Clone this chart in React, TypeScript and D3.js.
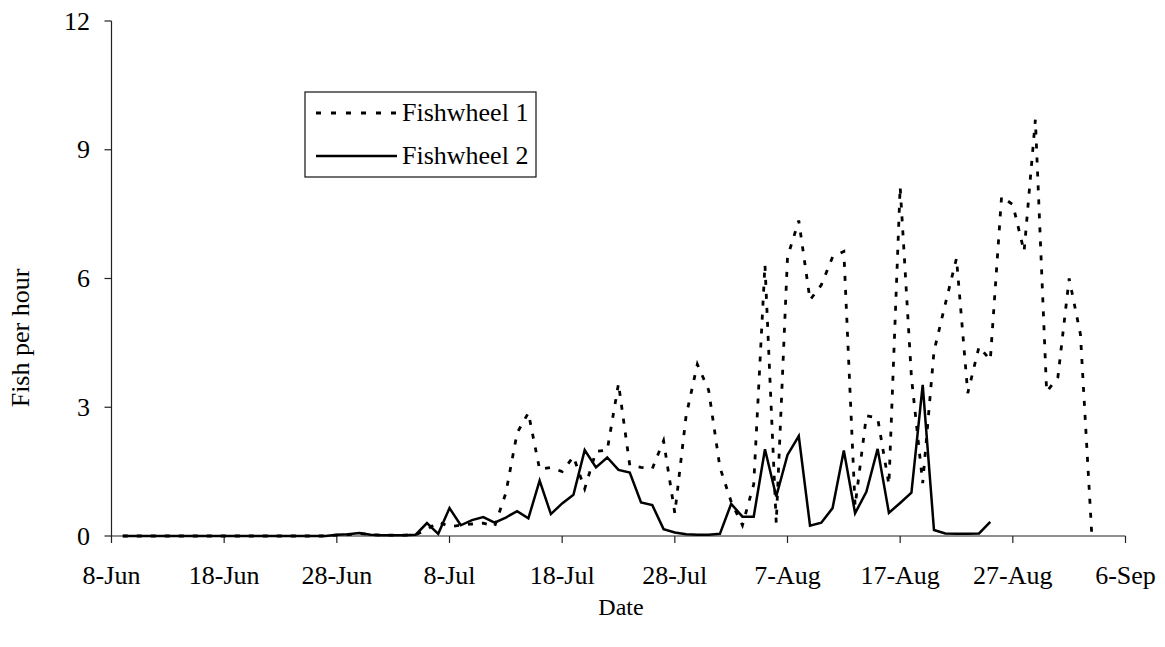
import React from "react";
import * as d3 from "d3";

// Day offsets from 8-Jun
const startDate = new Date(2000, 5, 8);
const tickLabels = ["8-Jun", "18-Jun", "28-Jun", "8-Jul", "18-Jul", "28-Jul", "7-Aug", "17-Aug", "27-Aug", "6-Sep"];
const tickDays = [0, 10, 20, 30, 40, 50, 60, 70, 80, 90];
const yTicks = [0, 3, 6, 9, 12];

// Fishwheel 1: daily catch rate from day 1 (9-Jun) to day 87
const fishwheel1 = [
  0, 0, 0, 0, 0, 0, 0, 0, 0, 0,
  0, 0, 0, 0, 0, 0, 0, 0, 0, 0.02,
  0.03, 0.06, 0.03, 0.02, 0.02, 0.02, 0.03, 0.15, 0.33, 0.22,
  0.25, 0.28, 0.3, 0.22, 1.0, 2.4, 2.87, 1.55, 1.6, 1.5,
  1.85, 1.1, 1.97, 2.0, 3.55, 1.65, 1.6, 1.57, 2.22, 0.53,
  2.8, 4.0, 3.4, 1.6, 0.8, 0.25, 1.2, 6.32, 0.3, 6.5,
  7.35, 5.5, 5.85, 6.5, 6.63, 0.7, 2.8, 2.75, 1.2, 8.14,
  3.7, 1.23, 4.3, 5.4, 6.47, 3.33, 4.41, 4.1, 7.91, 7.72,
  6.63, 9.7, 3.36, 3.7, 6.0, 4.7, 0.06,
];

// Fishwheel 2: daily catch rate from day 1 (9-Jun) to day 78
const fishwheel2 = [
  0, 0, 0, 0, 0, 0, 0, 0, 0, 0,
  0, 0, 0, 0, 0, 0, 0, 0, 0, 0.03,
  0.04, 0.07, 0.03, 0.02, 0.02, 0.02, 0.03, 0.3, 0.05, 0.65,
  0.25, 0.37, 0.44, 0.31, 0.43, 0.58, 0.41, 1.29, 0.51, 0.76,
  0.96, 2.0, 1.6, 1.83, 1.54, 1.48, 0.78, 0.72, 0.16, 0.08,
  0.04, 0.03, 0.03, 0.05, 0.75, 0.45, 0.45, 2.02, 0.92, 1.89,
  2.33, 0.24, 0.31, 0.65, 1.99, 0.53, 1.03, 2.03, 0.54, 0.77,
  1.01, 3.52, 0.14, 0.06, 0.05, 0.05, 0.06, 0.33,
];

const seriesNames = ["Fishwheel 1", "Fishwheel 2"];

const W = 1165;
const H = 647;
const FONT = "'Liberation Serif', 'Times New Roman', serif";
const FS = 26;

export default function App() {
  const dayMs = 24 * 3600 * 1000;
  const toDate = (d: number) => new Date(startDate.getTime() + d * dayMs);
  const x = d3.scaleTime().domain([toDate(0), toDate(90)]).range([111.5, 1125.5]);
  const y = d3.scaleLinear().domain([0, 12]).range([536, 21]);

  const line = d3
    .line<[Date, number]>()
    .x((p) => x(p[0]))
    .y((p) => y(p[1]));

  const pts1: [Date, number][] = fishwheel1.map((v, i) => [toDate(i + 1), v]);
  const pts2: [Date, number][] = fishwheel2.map((v, i) => [toDate(i + 1), v]);

  const x0 = x(toDate(0));
  const x1 = x(toDate(90));
  const y0 = y(0);

  return (
    <svg
      width={W}
      height={H}
      style={{ position: "absolute", left: 0, top: 0, background: "#fff" }}
      fontFamily={FONT}
    >
      <rect x={0} y={0} width={W} height={H} fill="#fff" />
      {/* axes */}
      <line x1={x0} x2={x0} y1={y(12)} y2={y0} stroke="#222" strokeWidth={1.2} />
      <line x1={x0} x2={x1} y1={y0} y2={y0} stroke="#222" strokeWidth={1.2} />
      {yTicks.map((t) => (
        <g key={"y" + t}>
          <line x1={x0 - 7} x2={x0} y1={y(t)} y2={y(t)} stroke="#222" strokeWidth={1.2} />
          <text x={90} y={y(t) + 8.5} textAnchor="end" fontSize={FS} fill="#000">
            {t}
          </text>
        </g>
      ))}
      {tickDays.map((d, i) => (
        <g key={"x" + d}>
          <line x1={x(toDate(d))} x2={x(toDate(d))} y1={y0} y2={y0 + 7} stroke="#222" strokeWidth={1.2} />
          <text x={x(toDate(d))} y={584} textAnchor="middle" fontSize={FS} fill="#000">
            {tickLabels[i]}
          </text>
        </g>
      ))}
      {/* axis titles */}
      <text x={621} y={615} textAnchor="middle" fontSize={24} fill="#000">
        Date
      </text>
      <text
        transform={`translate(29,338) rotate(-90)`}
        textAnchor="middle"
        fontSize={FS}
        fill="#000"
      >
        Fish per hour
      </text>
      {/* series */}
      <path
        d={line(pts1) || ""}
        fill="none"
        stroke="#000"
        strokeWidth={2.8}
        strokeDasharray="5 9"
      />
      <path d={line(pts2) || ""} fill="none" stroke="#000" strokeWidth={2.5} strokeLinejoin="miter" />
      {/* legend */}
      <rect x={305} y={92} width={231} height={85} fill="#fff" stroke="#111" strokeWidth={1.2} />
      <line x1={316} x2={397} y1={113} y2={113} stroke="#000" strokeWidth={2.8} strokeDasharray="5 10" />
      <text x={402} y={121} fontSize={FS} fill="#000">
        {seriesNames[0]}
      </text>
      <line x1={316} x2={397} y1={156} y2={156} stroke="#000" strokeWidth={2.5} />
      <text x={402} y={164} fontSize={FS} fill="#000">
        {seriesNames[1]}
      </text>
    </svg>
  );
}
